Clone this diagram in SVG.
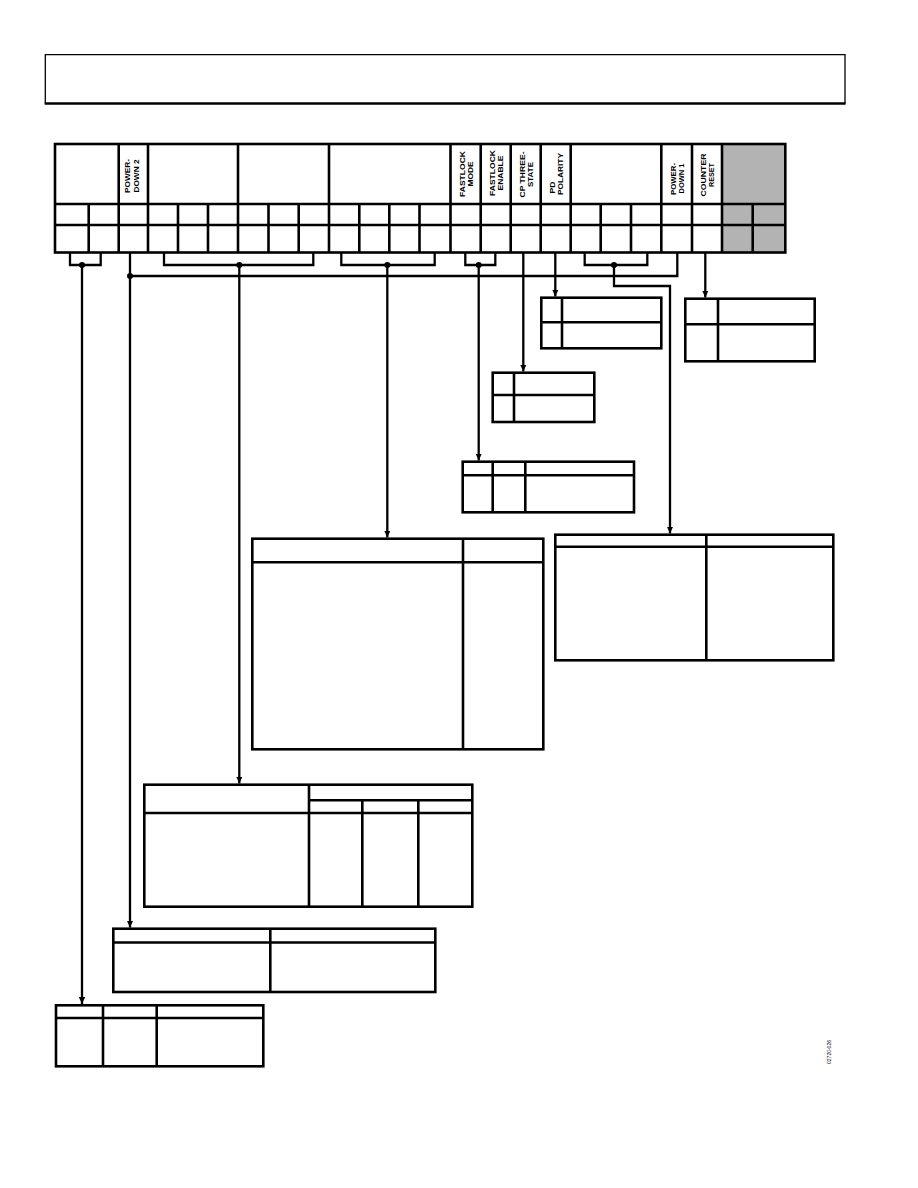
<svg xmlns="http://www.w3.org/2000/svg" width="918" height="1188" viewBox="0 0 918 1188">
<defs>
<marker id="arr" viewBox="0 -4 8 8" refX="7" refY="0" markerWidth="8" markerHeight="8" markerUnits="userSpaceOnUse" orient="auto">
<path d="M0,-3.2 L7,0 L0,3.2 Z" fill="#000"/>
</marker>
<style>
.tb{fill:none;stroke:#000;stroke-width:2.6}
.ln{fill:none;stroke:#000;stroke-width:2.6}
.cn{fill:none;stroke:#000;stroke-width:2.3}
.ar{fill:none;stroke:#000;stroke-width:2.3;marker-end:url(#arr)}
.dot{fill:#000}
.vt{font-family:"Liberation Sans",Arial,sans-serif;font-size:6.8px;font-weight:bold;fill:#000}
.mid{text-anchor:middle}
.st{text-anchor:start}
</style>
</defs>
<rect width="918" height="1188" fill="#fff"/>

<g id="title-box">
<path d="M845,103.5 V54.7 H45.3 V103.5" fill="none" stroke="#000" stroke-width="1.3"/>
<line x1="44.7" y1="103.5" x2="845.6" y2="103.5" stroke="#000" stroke-width="2.4"/>
</g>

<g id="register">
<rect x="722" y="144" width="63.3" height="108.5" fill="#b3b3b3"/>
<rect class="tb" x="55" y="144" width="730.3" height="108.5"/>
<path class="ln" d="M55,204 H785.3 M55,225 H785.3"/>
<path class="ln" d="M118.7,144 V252.5 M148,144 V252.5 M238,144 V252.5 M329,144 V252.5 M450.5,144 V252.5 M480.7,144 V252.5 M510.7,144 V252.5 M540.7,144 V252.5 M570.7,144 V252.5 M661.3,144 V252.5 M692,144 V252.5 M722,144 V252.5"/>
<path class="ln" d="M88.7,204 V252.5 M178,204 V252.5 M208,204 V252.5 M268.5,204 V252.5 M298.7,204 V252.5 M359.3,204 V252.5 M389.3,204 V252.5 M419.5,204 V252.5 M600.7,204 V252.5 M631,204 V252.5 M752.7,204 V252.5"/>
<text class="vt mid" transform="translate(130,176) rotate(-90)" textLength="34" lengthAdjust="spacingAndGlyphs">POWER-</text>
<text class="vt mid" transform="translate(138.5,176) rotate(-90)" textLength="33" lengthAdjust="spacingAndGlyphs">DOWN 2</text>
<text class="vt mid" transform="translate(465,174) rotate(-90)" textLength="46" lengthAdjust="spacingAndGlyphs">FASTLOCK</text>
<text class="vt mid" transform="translate(473,174) rotate(-90)" textLength="25" lengthAdjust="spacingAndGlyphs">MODE</text>
<text class="vt mid" transform="translate(495,173) rotate(-90)" textLength="46" lengthAdjust="spacingAndGlyphs">FASTLOCK</text>
<text class="vt mid" transform="translate(503,173) rotate(-90)" textLength="35" lengthAdjust="spacingAndGlyphs">ENABLE</text>
<text class="vt mid" transform="translate(525,174.5) rotate(-90)" textLength="46" lengthAdjust="spacingAndGlyphs">CP THREE-</text>
<text class="vt mid" transform="translate(533,174.5) rotate(-90)" textLength="25" lengthAdjust="spacingAndGlyphs">STATE</text>
<text class="vt st" transform="translate(555,193.5) rotate(-90)" textLength="12" lengthAdjust="spacingAndGlyphs">PD</text>
<text class="vt st" transform="translate(563,195) rotate(-90)" textLength="42" lengthAdjust="spacingAndGlyphs">POLARITY</text>
<text class="vt st" transform="translate(676,195) rotate(-90)" textLength="32" lengthAdjust="spacingAndGlyphs">POWER-</text>
<text class="vt st" transform="translate(684,193.5) rotate(-90)" textLength="30" lengthAdjust="spacingAndGlyphs">DOWN 1</text>
<text class="vt mid" transform="translate(706,175) rotate(-90)" textLength="43" lengthAdjust="spacingAndGlyphs">COUNTER</text>
<text class="vt mid" transform="translate(714,175) rotate(-90)" textLength="24" lengthAdjust="spacingAndGlyphs">RESET</text>
</g>

<g id="connectors">
<path class="cn" d="M70,252.5 V265 H100.7 V252.5"/>
<path class="ar" d="M82,265 V1004"/>
<circle class="dot" cx="82" cy="265" r="3"/>
<path class="ar" d="M130,252.5 V927.5"/>
<path class="cn" d="M130,276 H677.3 V252.5"/>
<circle class="dot" cx="130" cy="276" r="3"/>
<path class="cn" d="M164,252.5 V265 H313.3 V252.5"/>
<path class="ar" d="M239.3,265 V783.5"/>
<circle class="dot" cx="239.3" cy="265" r="3"/>
<path class="cn" d="M341.3,252.5 V265 H434.7 V252.5"/>
<path class="ar" d="M387.3,265 V537.5"/>
<circle class="dot" cx="387.3" cy="265" r="3"/>
<path class="cn" d="M465.3,252.5 V265 H495.3 V252.5"/>
<path class="ar" d="M478.7,265 V460.5"/>
<circle class="dot" cx="478.7" cy="265" r="3"/>
<path class="ar" d="M523.3,252.5 V371.5"/>
<path class="ar" d="M555.3,252.5 V296.5"/>
<path class="cn" d="M584.7,252.5 V265 H647.3 V252.5"/>
<path class="ar" d="M614,265 V286 H670 V533.5"/>
<circle class="dot" cx="614" cy="265" r="3"/>
<path class="ar" d="M705.3,252.5 V297.5"/>
</g>

<g id="pd-polarity-table">
<rect class="tb" x="541.3" y="297.7" width="120" height="50.6"/>
<path class="ln" d="M541.3,322.3 H661.3 M562,297.7 V348.3"/>
</g>

<g id="counter-reset-table">
<rect class="tb" x="685.3" y="298.7" width="129.4" height="62.6"/>
<path class="ln" d="M685.3,324.3 H814.7 M718,298.7 V361.3"/>
</g>

<g id="cp-three-state-table">
<rect class="tb" x="492.7" y="372.7" width="101.6" height="49.3"/>
<path class="ln" d="M492.7,395 H594.3 M514,372.7 V422"/>
</g>

<g id="fastlock-table">
<rect class="tb" x="462.7" y="461.7" width="171.3" height="50.6"/>
<path class="ln" d="M462.7,475.3 H634 M492.7,461.7 V512.3 M525.3,461.7 V512.3"/>
</g>

<g id="current-setting-table">
<rect class="tb" x="252.3" y="538.7" width="291" height="210.6"/>
<path class="ln" d="M252.3,562.3 H543.3 M463,538.7 V749.3"/>
</g>

<g id="muxout-table">
<rect class="tb" x="555.3" y="534.7" width="278" height="125.6"/>
<path class="ln" d="M555.3,546.7 H833.3 M706.3,534.7 V660.3"/>
</g>

<g id="timer-table">
<rect class="tb" x="144.3" y="784.7" width="328" height="122"/>
<path class="ln" d="M144.3,813 H472.3 M309,784.7 V906.7 M309,800.3 H472.3 M362.3,800.3 V906.7 M418.3,800.3 V906.7"/>
</g>

<g id="power-down-table">
<rect class="tb" x="113.3" y="928.7" width="322" height="63.3"/>
<path class="ln" d="M113.3,942.5 H435.3 M270.3,928.7 V992"/>
</g>

<g id="lock-detect-table">
<rect class="tb" x="56" y="1005.3" width="207.3" height="61"/>
<path class="ln" d="M56,1018 H263.3 M103,1005.3 V1066.3 M156.7,1005.3 V1066.3"/>
</g>

<text transform="translate(831,1052) rotate(-90)" font-family="Liberation Sans, Arial, sans-serif" font-size="5" text-anchor="middle" fill="#000">02720-026</text>
</svg>
